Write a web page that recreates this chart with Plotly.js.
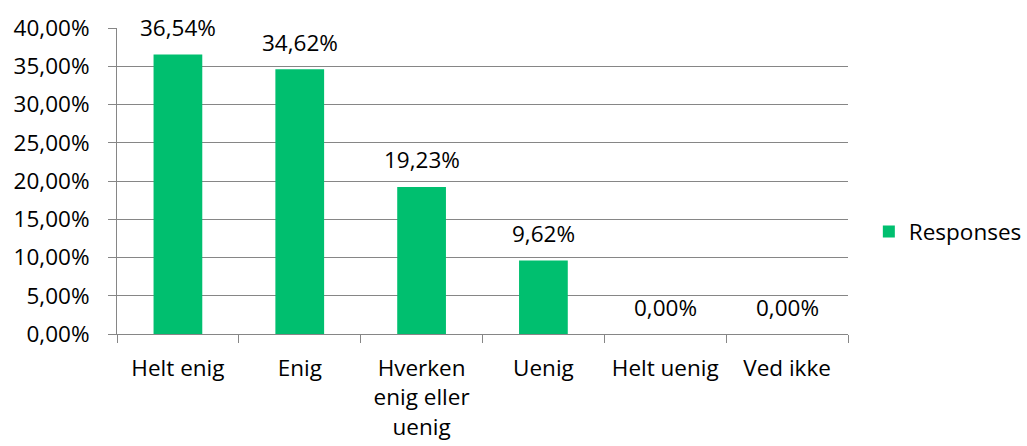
<!DOCTYPE html>
<html>
<head>
<meta charset="utf-8">
<script src="https://cdn.plot.ly/plotly-3.0.1.min.js"></script>
<style>html,body{margin:0;padding:0;background:#fff;}#chart{width:1027px;height:446px;}</style>
</head>
<body>
<div id="chart"></div>
<script>
const categories = ["Helt enig", "Enig", "Hverken enig eller uenig", "Uenig", "Helt uenig", "Ved ikke"];
const tickLabels = ["Helt enig", "Enig", "Hverken<br>enig eller<br>uenig", "Uenig", "Helt uenig", "Ved ikke"];
const responses = [36.54, 34.62, 19.23, 9.62, 0.00, 0.00];
const seriesName = "Responses";

const FONT = {family: "Open Sans, Calibri, sans-serif", size: 22.5, color: "#000000"};
const GRAY = "#868686";

const fmt = v => v.toFixed(2).replace(".", ",") + "%";

const trace = {
  type: "bar",
  x: categories,
  y: responses,
  name: seriesName,
  marker: {color: "#00bf6f"},
  showlegend: true,
  hoverinfo: "none"
};

const annotations = categories.map((c, i) => ({
  x: c, y: responses[i], xref: "x", yref: "y",
  text: fmt(responses[i]), showarrow: false,
  yanchor: "middle", yshift: 27, font: FONT
}));

const layout = {
  width: 1027, height: 446,
  margin: {l: 117, r: 179, t: 28, b: 112, pad: 0, autoexpand: false},
  paper_bgcolor: "#ffffff", plot_bgcolor: "#ffffff",
  font: FONT,
  separators: ",.",
  bargap: 0.6,
  xaxis: {
    type: "category",
    tickvals: categories, ticktext: tickLabels,
    showline: true, linecolor: GRAY, linewidth: 1,
    ticks: "outside", tickson: "boundaries", ticklen: 8, tickcolor: GRAY, tickwidth: 1,
    showgrid: false, zeroline: false, ticklabelstandoff: 14,
    tickfont: FONT, fixedrange: true
  },
  yaxis: {
    range: [0, 40], dtick: 5, tick0: 0,
    tickformat: ".2f", ticksuffix: "%",
    showline: true, linecolor: GRAY, linewidth: 1,
    ticks: "outside", ticklen: 8, tickcolor: GRAY, tickwidth: 1,
    showgrid: true, gridcolor: GRAY, gridwidth: 1,
    zeroline: false, ticklabelstandoff: 14,
    tickfont: FONT, fixedrange: true
  },
  legend: {
    xref: "container", yref: "container",
    x: 0.846, xanchor: "left", y: 0.48, yanchor: "middle",
    itemwidth: 30,
    font: FONT, bgcolor: "rgba(0,0,0,0)"
  },
  annotations: annotations
};

Plotly.newPlot("chart", [trace], layout, {displayModeBar: false, staticPlot: true});
</script>
</body>
</html>
